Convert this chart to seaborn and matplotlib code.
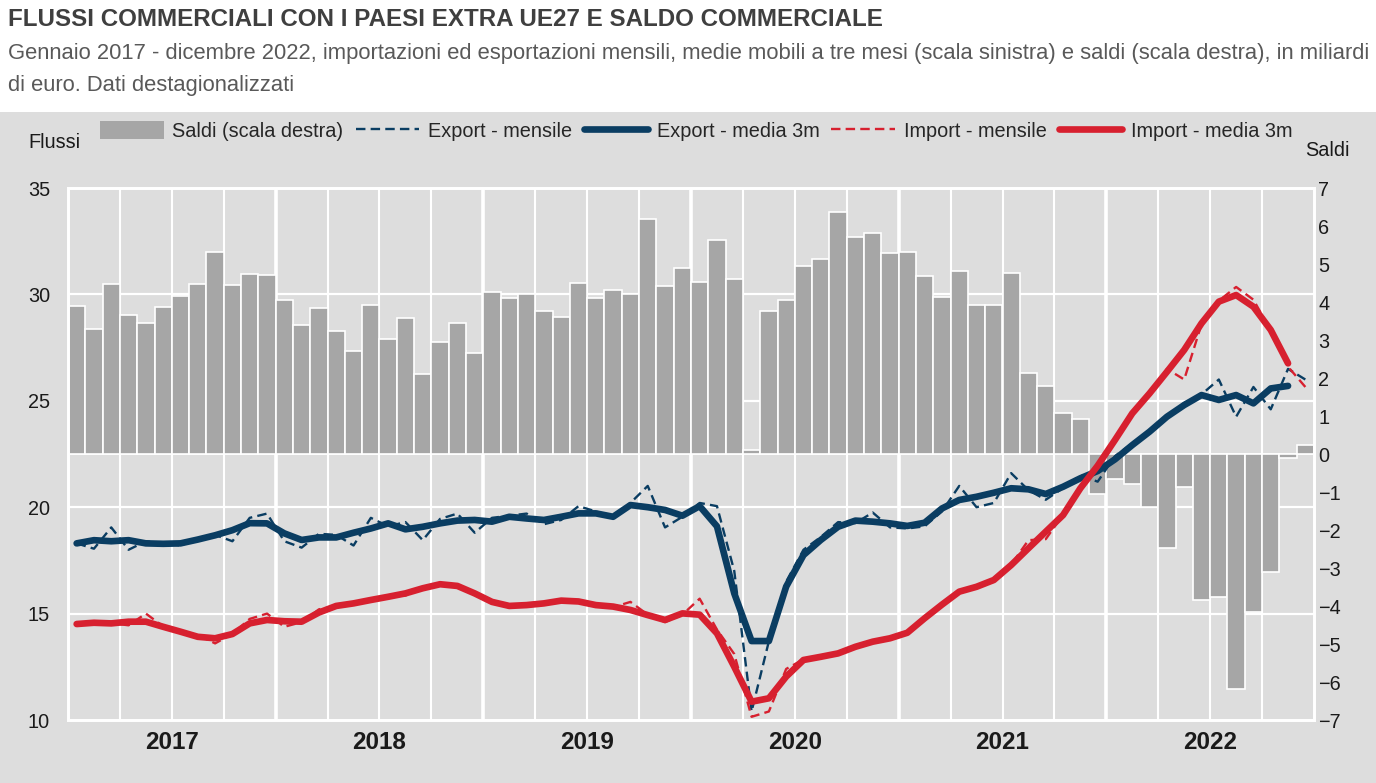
import numpy as np
import pandas as pd
import matplotlib.pyplot as plt
import matplotlib.transforms as mtransforms
from matplotlib.patches import Rectangle, Patch
from matplotlib.lines import Line2D
import seaborn as sns

# ---------- dati (miliardi di euro) ----------
anni = ['2017', '2018', '2019', '2020', '2021', '2022']
mesi = pd.date_range('2017-01-01', '2022-12-01', freq='MS')

saldi = [3.89, 3.30, 4.47, 3.65, 3.44, 3.88, 4.17, 4.47, 5.32, 4.44, 4.74, 4.71,
         4.05, 3.39, 3.85, 3.24, 2.71, 3.92, 3.03, 3.59, 2.11, 2.94, 3.45, 2.66,
         4.27, 4.11, 4.20, 3.76, 3.61, 4.51, 4.11, 4.32, 4.22, 6.19, 4.42, 4.89,
         4.53, 5.64, 4.61, 0.10, 3.77, 4.05, 4.94, 5.14, 6.38, 5.71, 5.82, 5.30,
         5.31, 4.68, 4.13, 4.82, 3.93, 3.93, 4.76, 2.14, 1.80, 1.09, 0.91, -1.04,
         -0.67, -0.78, -1.39, -2.48, -0.86, -3.83, -3.75, -6.18, -4.17, -3.11, -0.10, 0.25]

export_mensile = [18.30, 18.05, 19.05, 18.00, 18.40, 18.30, 18.20, 18.50, 18.70, 18.40, 19.50, 19.70,
                  18.40, 18.10, 18.75, 18.70, 18.20, 19.50, 19.10, 19.30, 18.45, 19.45, 19.70, 18.80,
                  19.50, 19.60, 19.70, 19.20, 19.40, 20.05, 19.80, 19.55, 20.20, 21.00, 19.05, 19.55,
                  20.20, 20.05, 17.00, 10.40, 13.70, 16.50, 18.00, 18.60, 19.30, 19.25, 19.75, 19.05,
                  19.00, 19.10, 19.80, 21.00, 20.00, 20.20, 21.60, 20.80, 20.35, 20.90, 21.50, 21.20,
                  22.40, 23.00, 23.60, 24.20, 24.90, 25.30, 26.00, 24.25, 25.65, 24.60, 26.50, 26.00]

export_3m = [18.30, 18.45, 18.40, 18.45, 18.30, 18.28, 18.30, 18.48, 18.68, 18.92, 19.25, 19.24,
             18.77, 18.46, 18.58, 18.58, 18.80, 19.00, 19.24, 18.96, 19.08, 19.24, 19.37, 19.40,
             19.32, 19.55, 19.47, 19.40, 19.55, 19.71, 19.71, 19.55, 20.10, 20.00, 19.87, 19.60,
             20.05, 19.10, 15.95, 13.71, 13.71, 16.27, 17.75, 18.46, 19.08, 19.37, 19.32, 19.24,
             19.12, 19.27, 19.94, 20.34, 20.49, 20.68, 20.89, 20.84, 20.62, 20.96, 21.36, 21.70,
             22.25, 22.92, 23.55, 24.25, 24.80, 25.27, 25.04, 25.27, 24.88, 25.58, 25.70, np.nan]

import_mensile = [14.50, 14.55, 14.55, 14.45, 15.00, 14.40, 14.15, 14.00, 13.60, 14.05, 14.75, 15.00,
                  14.38, 14.60, 15.20, 15.35, 15.45, 15.65, 15.85, 15.85, 16.20, 16.45, 16.30, 15.95,
                  15.50, 15.35, 15.40, 15.50, 15.65, 15.60, 15.40, 15.30, 15.55, 14.95, 14.60, 14.95,
                  15.70, 14.25, 13.10, 10.15, 10.40, 12.40, 12.85, 13.00, 13.15, 13.50, 13.70, 13.85,
                  14.10, 14.80, 15.45, 16.05, 16.20, 16.50, 17.30, 18.45, 18.50, 19.65, 21.00, 22.00,
                  23.20, 24.40, 25.30, 26.50, 26.00, 28.60, 29.70, 30.35, 29.75, 28.30, 26.60, 25.65]

import_3m = [14.51, 14.57, 14.54, 14.62, 14.62, 14.38, 14.15, 13.91, 13.84, 14.04, 14.54, 14.70,
             14.64, 14.62, 15.05, 15.36, 15.48, 15.64, 15.79, 15.95, 16.19, 16.38, 16.30, 15.95,
             15.55, 15.36, 15.40, 15.48, 15.61, 15.57, 15.40, 15.33, 15.17, 14.93, 14.70, 15.01,
             14.95, 14.07, 12.50, 10.86, 11.02, 12.04, 12.82, 12.97, 13.13, 13.44, 13.68, 13.84,
             14.10, 14.78, 15.42, 16.03, 16.26, 16.58, 17.28, 18.07, 18.85, 19.63, 20.89, 21.95,
             23.16, 24.41, 25.35, 26.36, 27.39, 28.64, 29.66, 29.97, 29.42, 28.33, 26.76, np.nan]

df = pd.DataFrame({
    'mese': mesi,
    'pos': np.arange(len(mesi)),
    'saldi': saldi,
    'export_mensile': export_mensile,
    'export_3m': export_3m,
    'import_mensile': import_mensile,
    'import_3m': import_3m,
})

# ---------- stile ----------
sns.set_style('white')
plt.rcParams['font.family'] = ['Liberation Sans', 'DejaVu Sans']

grigio_sfondo = '#DDDDDD'
grigio_barre = '#A6A6A6'
blu = '#0A3D62'
rosso = '#D7202F'
tratteggio = (0, (4, 2.2))
fs = 14.3

fig = plt.figure(figsize=(13.76, 7.83), dpi=100, facecolor='white')
fig.patches.append(Rectangle((0, 0), 1, 0.857, transform=fig.transFigure,
                             facecolor=grigio_sfondo, edgecolor='none', zorder=-10))

ax = fig.add_axes([68 / 1376, 63 / 783, 1246 / 1376, 532 / 783])
ax2 = ax.twinx()

# barre dei saldi (scala destra)
sns.barplot(data=df, x='pos', y='saldi', ax=ax2, color=grigio_barre, saturation=1,
            width=1.0, edgecolor='white', linewidth=1.2, zorder=1)
ax2.set_ylim(-7, 7)
ax2.axhline(0, color='white', lw=1.2, zorder=0.5)

# griglia dietro le barre
trasf = mtransforms.blended_transform_factory(ax2.transAxes, ax.transData)
for v in [15, 20, 25, 30]:
    ax2.plot([0, 1], [v, v], transform=trasf, color='white', lw=1.6, zorder=0)
for k in range(3, len(mesi), 3):
    ax2.axvline(k - 0.5, color='white', lw=2.6 if k % 12 == 0 else 1.5, zorder=0)

# linee dei flussi (scala sinistra)
sns.lineplot(data=df, x='pos', y='export_mensile', ax=ax, color=blu, lw=1.7,
             linestyle=tratteggio)
sns.lineplot(data=df, x='pos', y='export_3m', ax=ax, color=blu, lw=4.8)
sns.lineplot(data=df, x='pos', y='import_mensile', ax=ax, color=rosso, lw=1.7,
             linestyle=tratteggio)
sns.lineplot(data=df, x='pos', y='import_3m', ax=ax, color=rosso, lw=4.8)

ax.set_zorder(ax2.get_zorder() + 1)
ax.patch.set_visible(False)
ax2.patch.set_visible(False)

ax.set_ylim(10, 35)
ax.set_xlim(-0.5, len(mesi) - 0.5)
ax.set_yticks([10, 15, 20, 25, 30, 35])
ax2.set_yticks(range(-7, 8))
ax.set_xticks([i * 12 + 5.5 for i in range(len(anni))])
ax.set_xticklabels(anni, fontweight='bold', fontsize=17.5, color='#1A1A1A')
ax.set_xlabel('')
ax.set_ylabel('')
ax2.set_xlabel('')
ax2.set_ylabel('')
ax.tick_params(axis='y', length=0, labelsize=fs, pad=13, colors='#1A1A1A')
ax.tick_params(axis='x', length=0, pad=8)
ax2.tick_params(axis='y', length=0, labelsize=fs, pad=3, colors='#1A1A1A')
for a in (ax, ax2):
    for s in a.spines.values():
        s.set_color('white')
        s.set_linewidth(2)

# titoli
fig.text(8 / 1376, 1 - 19 / 783, 'FLUSSI COMMERCIALI CON I PAESI EXTRA UE27 E SALDO COMMERCIALE',
         fontsize=17.4, fontweight='bold', color='#3F3F3F', va='center', ha='left')
fig.text(8 / 1376, 1 - 43 / 783,
         'Gennaio 2017 - dicembre 2022, importazioni ed esportazioni mensili, medie mobili a tre mesi '
         '(scala sinistra) e saldi (scala destra), in miliardi\ndi euro. Dati destagionalizzati',
         fontsize=15.8, color='#595959', va='top', ha='left', linespacing=1.7)
fig.text(28 / 1376, 1 - 143 / 783, 'Flussi', fontsize=fs, color='#1A1A1A', va='center', ha='left')
fig.text(1305 / 1376, 1 - 150 / 783, 'Saldi', fontsize=fs, color='#1A1A1A', va='center', ha='left')

# legenda
maniglie = [
    Patch(facecolor=grigio_barre, edgecolor='none'),
    Line2D([], [], color=blu, lw=1.7, linestyle=tratteggio),
    Line2D([], [], color=blu, lw=4.8),
    Line2D([], [], color=rosso, lw=1.7, linestyle=tratteggio),
    Line2D([], [], color=rosso, lw=4.8),
]
etichette = ['Saldi (scala destra)', 'Export - mensile', 'Export - media 3m',
             'Import - mensile', 'Import - media 3m']
fig.legend(maniglie, etichette, loc='center', bbox_to_anchor=(0.506, 1 - 131 / 783), ncol=5,
           frameon=False, fontsize=fs, handlelength=3.2, handleheight=1.0,
           columnspacing=0.6, handletextpad=0.45)

fig.savefig('out.png', dpi=100, facecolor=fig.get_facecolor())
